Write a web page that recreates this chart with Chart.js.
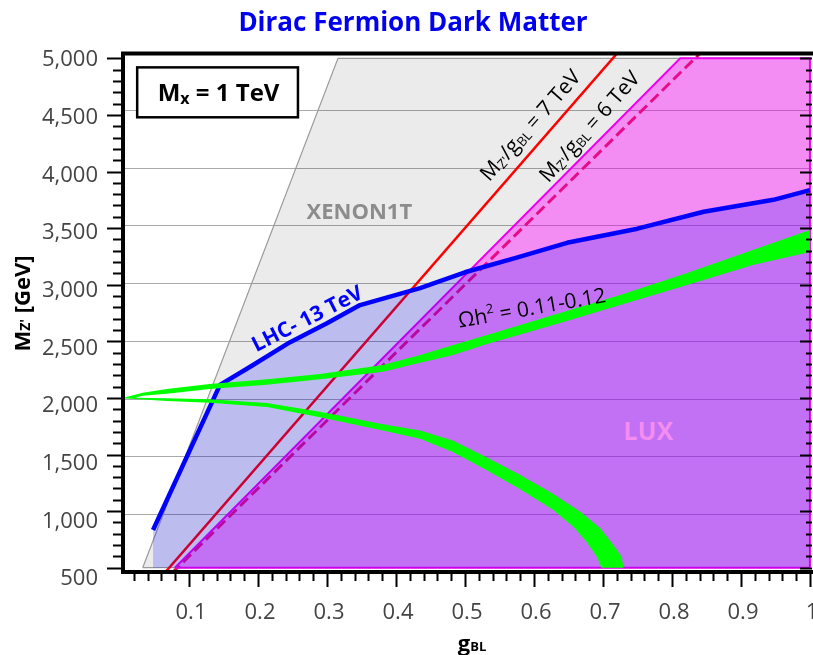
<!DOCTYPE html>
<html>
<head>
<meta charset="utf-8">
<title>Dirac Fermion Dark Matter</title>
<script src="https://cdn.jsdelivr.net/npm/chart.js@4"></script>
<style>
  html, body { margin: 0; padding: 0; background: #fff; }
  #chart { display: block; }
</style>
</head>
<body>
<canvas id="chart" width="813" height="655"></canvas>
<script>
// tick labels
const xTickLabels = ["0.1", "0.2", "0.3", "0.4", "0.5", "0.6", "0.7", "0.8", "0.9", "1"];
const yTickLabels = ["500", "1,000", "1,500", "2,000", "2,500", "3,000", "3,500", "4,000", "4,500", "5,000"];

// XENON1T excluded region (grey), corners
const xenonG = [0.033, 0.316, 1.0, 1.0, 0.033];
const xenonM = [500, 5000, 5000, 500, 500];

// LUX excluded region (pink), corners
const luxG = [0.0797, 0.812, 1.0, 1.0, 0.0797];
const luxM = [500, 5000, 5000, 500, 500];

// LHC 13 TeV dilepton bound
const lhcG = [0.048, 0.145, 0.19, 0.246, 0.3, 0.348, 0.435, 0.5, 0.575, 0.648, 0.75, 0.846, 0.947, 1.0];
const lhcM = [833, 2115, 2280, 2490, 2660, 2820, 2970, 3110, 3240, 3370, 3495, 3645, 3750, 3836];

// M_Z'/g_BL = 7 TeV and 6 TeV lines (end points)
const line7G = [0.064, 0.723];
const line7M = [448, 5061];
const line6G = [0.075, 0.844];
const line6M = [450, 5064];

// relic density band Omega h^2 = 0.11-0.12, edges of the two branches
const omegaUpTopG = [0.004, 0.033, 0.068, 0.130, 0.213, 0.290, 0.381, 0.435, 0.483, 0.532, 0.628, 0.725, 0.822, 0.917, 1.0];
const omegaUpTopM = [2000, 2045, 2079, 2123, 2164, 2211, 2291, 2379, 2467, 2556, 2732, 2909, 3103, 3306, 3483];
const omegaUpBotG = [0.022, 0.033, 0.068, 0.130, 0.213, 0.290, 0.381, 0.435, 0.483, 0.532, 0.628, 0.725, 0.822, 0.917, 1.0];
const omegaUpBotM = [2002, 2020, 2036, 2079, 2117, 2164, 2231, 2311, 2379, 2476, 2644, 2821, 2997, 3174, 3289];
const omegaLoTopG = [0.022, 0.068, 0.130, 0.213, 0.290, 0.381, 0.435, 0.483, 0.531, 0.580, 0.628, 0.667, 0.696, 0.715, 0.727, 0.730];
const omegaLoTopM = [2002, 1996, 1988, 1955, 1878, 1768, 1712, 1622, 1475, 1319, 1151, 995, 848, 700, 597, 500];
const omegaLoBotG = [0.004, 0.068, 0.130, 0.213, 0.290, 0.381, 0.435, 0.483, 0.531, 0.580, 0.628, 0.657, 0.676, 0.691, 0.698];
const omegaLoBotM = [1998, 1973, 1958, 1920, 1829, 1712, 1640, 1519, 1363, 1193, 1010, 862, 730, 597, 500];

function pts(gs, ms) {
  return gs.map((g, i) => ({ x: g, y: ms[i] }));
}

// closed outline of the green band: upper branch out and back, lower branch out and back
const omegaShape = [].concat(
  pts(omegaUpTopG, omegaUpTopM),
  pts(omegaUpBotG, omegaUpBotM).reverse(),
  pts(omegaLoTopG, omegaLoTopM),
  pts(omegaLoBotG, omegaLoBotM).reverse()
);

const tickFont = { family: "'Open Sans'", size: 22 };
const bold = (s) => "bold " + s + "px 'Open Sans'";
const reg = (s) => s + "px 'Open Sans'";

function ratioParts(v) {
  return [
    { t: "M", f: reg(21), c: "#000" },
    { t: "Z'", f: reg(13), c: "#000", dy: 2 },
    { t: "/g", f: reg(21), c: "#000" },
    { t: "BL", f: reg(13), c: "#000", dy: 2 },
    { t: " = " + v + " TeV", f: reg(21), c: "#000" }
  ];
}

// text labels placed in data coordinates
const notes = [
  { g: 0.347, m: 3653, angle: 0, size: 22, parts: [{ t: "XENON1T", f: bold(22), c: "#8c8c8c" }] },
  { g: 0.766, m: 1709, angle: 0, size: 25, parts: [{ t: "LUX", f: bold(25), c: "#f58cf0" }] },
  { g: 0.271, m: 2706, angle: -27, size: 21, parts: [{ t: "LHC- 13 TeV", f: bold(21), c: "#0000ff" }] },
  { g: 0.597, m: 2800, angle: -10, size: 21, parts: [
    { t: "Ωh", f: reg(21), c: "#000" },
    { t: "2", f: reg(13), c: "#000", dy: -9 },
    { t: " = 0.11-0.12", f: reg(21), c: "#000" }
  ] },
  { g: 0.594, m: 4411, angle: -48.5, size: 21, parts: ratioParts("7") },
  { g: 0.680, m: 4401, angle: -48.5, size: 21, parts: ratioParts("6") }
];

// "Mx = 1 TeV" box
const boxG = [0.025, 0.258];
const boxM = [4479, 4920];

function drawText(ctx, parts, px, py, angle, size) {
  ctx.save();
  ctx.translate(px, py);
  ctx.rotate(angle * Math.PI / 180);
  ctx.textBaseline = "alphabetic";
  ctx.textAlign = "left";
  let w = 0;
  for (const p of parts) { ctx.font = p.f; w += ctx.measureText(p.t).width; }
  let cx = -w / 2;
  for (const p of parts) {
    ctx.font = p.f;
    ctx.fillStyle = p.c;
    ctx.fillText(p.t, cx, size * 0.36 + (p.dy || 0));
    cx += ctx.measureText(p.t).width;
  }
  ctx.restore();
}

const decor = {
  id: "decor",
  afterDatasetsDraw(chart) {
    const { ctx } = chart;
    const x = chart.scales.x, y = chart.scales.y;

    // Mx box
    const bx1 = x.getPixelForValue(boxG[0]), bx2 = x.getPixelForValue(boxG[1]);
    const by1 = y.getPixelForValue(boxM[1]), by2 = y.getPixelForValue(boxM[0]);
    ctx.save();
    ctx.fillStyle = "#fff";
    ctx.fillRect(bx1, by1, bx2 - bx1, by2 - by1);
    ctx.lineWidth = 2.5;
    ctx.strokeStyle = "#000";
    ctx.strokeRect(bx1, by1, bx2 - bx1, by2 - by1);
    ctx.restore();
    drawText(ctx, [
      { t: "M", f: bold(24), c: "#000" },
      { t: "x", f: bold(16), c: "#000", dy: 3 },
      { t: " = 1 TeV", f: bold(24), c: "#000" }
    ], (bx1 + bx2) / 2 + 1, (by1 + by2) / 2, 0, 24);

    for (const n of notes) {
      drawText(ctx, n.parts, x.getPixelForValue(n.g), y.getPixelForValue(n.m), n.angle, n.size);
    }
  },
  afterDraw(chart) {
    const { ctx, chartArea: a } = chart;
    const x = chart.scales.x, y = chart.scales.y;
    ctx.save();
    ctx.strokeStyle = "#000";

    // minor and major ticks
    ctx.lineWidth = 2;
    ctx.beginPath();
    for (let k = 5; k <= 50; k++) {
      const py = Math.round(y.getPixelForValue(k * 100)) + 0.5;
      const len = k % 5 === 0 ? 15 : 9;
      ctx.moveTo(a.left - len, py);
      ctx.lineTo(a.left, py);
      const rl = k % 5 === 0 ? 12 : 6;
      ctx.moveTo(a.right, py);
      ctx.lineTo(a.right - rl, py);
    }
    for (let k = 1; k <= 50; k++) {
      const px = Math.round(x.getPixelForValue(k / 50)) + 0.5;
      const len = k % 5 === 0 ? 15 : 9;
      ctx.moveTo(px, a.bottom);
      ctx.lineTo(px, a.bottom + len);
    }
    ctx.stroke();

    // frame
    ctx.lineWidth = 4;
    ctx.beginPath();
    ctx.moveTo(a.left + 1, a.top - 1);
    ctx.lineTo(a.left + 1, a.bottom + 2);
    ctx.moveTo(a.left - 1, a.bottom);
    ctx.lineTo(a.right + 2, a.bottom);
    ctx.moveTo(a.left - 1, a.top + 0.5);
    ctx.lineTo(a.right + 2, a.top + 0.5);
    ctx.stroke();
    ctx.restore();

    // axis titles
    drawText(ctx, [
      { t: "M", f: bold(22), c: "#000" },
      { t: "Z'", f: bold(14), c: "#000" },
      { t: " [GeV]", f: bold(22), c: "#000" }
    ], 22, 303.5, -90, 22);
    drawText(ctx, [
      { t: "g", f: bold(22), c: "#000" },
      { t: "BL", f: bold(13), c: "#000" }
    ], (a.left + a.right) / 2 + 5, 643, 0, 22);
  }
};

const ctx = document.getElementById("chart");
const chart = new Chart(ctx, {
  type: "line",
  data: {
    datasets: [
      {
        label: "XENON1T",
        data: pts(xenonG, xenonM),
        fill: "shape",
        backgroundColor: "rgba(0,0,0,0.08)",
        borderColor: "#9a9a9a",
        borderWidth: 1.2,
        clip: 0,
        order: 9
      },
      {
        label: "MZ/gBL = 7 TeV",
        data: pts(line7G, line7M),
        fill: false,
        borderColor: "#ff0000",
        borderWidth: 2.5,
        clip: 0,
        order: 8
      },
      {
        label: "MZ/gBL = 6 TeV",
        data: pts(line6G, line6M),
        fill: false,
        borderColor: "#d8143c",
        borderWidth: 3,
        borderDash: [11, 5],
        clip: 0,
        order: 7
      },
      {
        label: "LUX",
        data: pts(luxG, luxM),
        fill: "shape",
        backgroundColor: "rgba(255,0,255,0.4)",
        borderColor: "#ee00ee",
        borderWidth: 2,
        clip: 0,
        order: 6
      },
      {
        label: "LHC- 13 TeV",
        data: pts(lhcG, lhcM),
        fill: { value: 500 },
        backgroundColor: "rgba(0,0,255,0.2)",
        borderColor: "#0000ff",
        borderWidth: 4.5,
        borderJoinStyle: "round",
        clip: 0,
        order: 5
      },
      {
        label: "relic density",
        data: omegaShape,
        fill: "shape",
        backgroundColor: "#00ff00",
        borderWidth: 0,
        clip: 0,
        order: 4
      }
    ]
  },
  options: {
    responsive: false,
    animation: false,
    devicePixelRatio: 1,
    layout: { padding: { left: 14, right: 1, top: 0, bottom: 0 }, autoPadding: false },
    elements: { point: { radius: 0, hoverRadius: 0 }, line: { tension: 0 } },
    plugins: {
      legend: { display: false },
      tooltip: { enabled: false },
      title: {
        display: true,
        text: "Dirac Fermion Dark Matter",
        color: "#0000ee",
        font: { family: "'Open Sans'", size: 26, weight: "bold" },
        padding: { top: 8, bottom: 13.8 }
      }
    },
    scales: {
      x: {
        type: "linear",
        min: 0.003,
        max: 1.003,
        grid: { display: false },
        border: { display: false },
        ticks: {
          stepSize: 0.1,
          includeBounds: false,
          autoSkip: false,
          maxRotation: 0,
          padding: 20,
          color: "#444",
          font: tickFont,
          callback: (v) => xTickLabels[Math.round(v * 10) - 1]
        },
        afterFit: (s) => { s.height = 83; s.paddingLeft = 0; s.paddingRight = 0; }
      },
      y: {
        type: "linear",
        min: 462,
        max: 5047,
        grid: { color: "#aaaaaa", lineWidth: 1, drawTicks: false },
        border: { display: false },
        ticks: {
          stepSize: 500,
          includeBounds: false,
          autoSkip: false,
          padding: 24,
          labelOffset: 7,
          color: "#444",
          font: tickFont,
          callback: (v) => yTickLabels[Math.round(v / 500) - 1]
        },
        afterFit: (s) => { s.width = 108; s.paddingTop = 0; s.paddingBottom = 0; }
      }
    }
  },
  plugins: [decor]
});
</script>
</body>
</html>
